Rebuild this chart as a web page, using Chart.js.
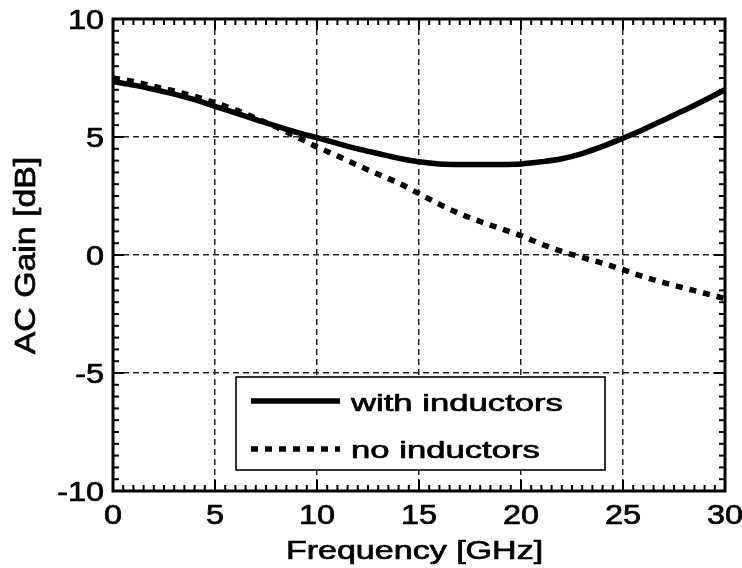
<!DOCTYPE html>
<html>
<head>
<meta charset="utf-8">
<script src="https://cdn.jsdelivr.net/npm/chart.js@4/dist/chart.umd.min.js"></script>
<style>
  html, body { margin: 0; padding: 0; background: #ffffff; }
  #wrap { width: 742px; height: 568px; }
</style>
</head>
<body>
<div id="wrap"><canvas id="gain" width="742" height="568"></canvas></div>
<script>
// Frequency sweep points (GHz)
const freqGHz = [0, 1, 2, 3, 4, 5, 6, 7, 8, 9, 10, 11, 12, 13, 14, 15, 16, 17, 18, 19, 20,
                 21, 22, 23, 24, 25, 26, 27, 28, 29, 30];
// AC gain with peaking inductors (dB)
const gainWithInductors = [7.35, 7.2, 7.02, 6.82, 6.58, 6.3, 6.02, 5.74, 5.46, 5.2, 4.97,
                           4.73, 4.5, 4.3, 4.1, 3.95, 3.86, 3.84, 3.84, 3.84, 3.86,
                           3.95, 4.08, 4.3, 4.6, 4.95, 5.32, 5.72, 6.13, 6.56, 7.0];
// AC gain without inductors (dB)
const gainNoInductors = [7.5, 7.35, 7.15, 6.95, 6.72, 6.45, 6.15, 5.8, 5.42, 5.0, 4.58,
                         4.2, 3.8, 3.42, 3.05, 2.6, 2.15, 1.75, 1.42, 1.12, 0.82,
                         0.46, 0.15, -0.1, -0.35, -0.62, -0.92, -1.17, -1.4, -1.62, -1.85];
const seriesNames = ['with inductors', 'no inductors'];
const xTickValues = [0, 5, 10, 15, 20, 25, 30];
const yTickValues = [-10, -5, 0, 5, 10];
const xAxisTitle = 'Frequency [GHz]';
const yAxisTitle = 'AC Gain [dB]';

const FONT = '"Liberation Sans", Arial, Helvetica, sans-serif';
const DOT_DASH = [7, 7];
const LINE_W = 5.5;

function toPoints(ys) {
  return freqGHz.map((f, i) => ({ x: f, y: ys[i] }));
}

function inkWidth(ctx, text, size) {
  ctx.save();
  ctx.font = size + 'px ' + FONT;
  const m = ctx.measureText(text);
  ctx.restore();
  return m.actualBoundingBoxLeft + m.actualBoundingBoxRight;
}

// Text drawn wide along its own direction (sx), optionally rotated,
// with a hairline outline to give the heavier stroke weight.
function wideText(ctx, text, x, y, size, sx, align, angle) {
  ctx.save();
  ctx.font = size + 'px ' + FONT;
  ctx.translate(x, y);
  if (angle) ctx.rotate(angle);
  ctx.scale(sx, 1);
  ctx.textAlign = align;
  ctx.textBaseline = 'alphabetic';
  ctx.fillStyle = '#000000';
  ctx.strokeStyle = '#000000';
  ctx.lineWidth = 0.7;
  ctx.lineJoin = 'round';
  ctx.fillText(text, 0, 0);
  ctx.strokeText(text, 0, 0);
  ctx.restore();
}

function seg(ctx, x1, y1, x2, y2) {
  ctx.beginPath();
  ctx.moveTo(x1, y1);
  ctx.lineTo(x2, y2);
  ctx.stroke();
}

const framePlugin = {
  id: 'frameAndLabels',
  afterDraw(chart) {
    const ctx = chart.ctx;
    const { left, right, top, bottom } = chart.chartArea;
    const xs = chart.scales.x, ys = chart.scales.y;

    // legend box
    const lx = 236, ly = 377, lw = 369, lh = 93;
    ctx.save();
    ctx.fillStyle = '#ffffff';
    ctx.fillRect(lx, ly, lw, lh);
    ctx.strokeStyle = '#000000';
    ctx.lineWidth = 1.6;
    ctx.strokeRect(lx, ly, lw, lh);
    const ds = chart.data.datasets;
    ctx.lineCap = 'butt';
    ctx.lineWidth = ds[0].borderWidth;
    ctx.setLineDash([]);
    seg(ctx, 251, 401, 340, 401);
    ctx.lineWidth = ds[1].borderWidth;
    ctx.setLineDash(DOT_DASH);
    seg(ctx, 251, 449, 340, 449);
    ctx.restore();
    const legSize = 24.5;
    const legSx = 213 / inkWidth(ctx, seriesNames[0], legSize);
    wideText(ctx, seriesNames[0], 351, 410.5, legSize, legSx, 'left');
    wideText(ctx, seriesNames[1], 351, 458, legSize, legSx, 'left');

    // plot frame
    ctx.save();
    ctx.strokeStyle = '#000000';
    ctx.lineWidth = 3;
    ctx.strokeRect(left, top, right - left, bottom - top);

    // inward major/minor tick marks on all four sides
    ctx.lineWidth = 2;
    for (let k = 0; k <= 60; k++) {
      const v = xs.min + k * 0.5;
      const px = xs.getPixelForValue(v);
      const len = (k % 10 === 0) ? 11 : 6;
      seg(ctx, px, bottom, px, bottom - len);
      seg(ctx, px, top, px, top + len);
    }
    for (let k = 0; k <= 40; k++) {
      const v = ys.min + k * 0.5;
      const py = ys.getPixelForValue(v);
      const len = (k % 10 === 0) ? 11 : 6;
      seg(ctx, left, py, left + len, py);
      seg(ctx, right, py, right - len, py);
    }
    ctx.restore();

    // tick labels
    const tickSize = 27, tickSx = 1.2;
    xTickValues.forEach(v => {
      wideText(ctx, String(v), xs.getPixelForValue(v), 523.5, tickSize, tickSx, 'center');
    });
    yTickValues.forEach(v => {
      wideText(ctx, String(v), 104, ys.getPixelForValue(v) + 9.7, tickSize, tickSx, 'right');
    });

    // axis titles
    const xtSize = 26;
    wideText(ctx, xAxisTitle, 414.5, 559, xtSize, 253 / inkWidth(ctx, xAxisTitle, xtSize), 'center');
    const ytSize = 29;
    wideText(ctx, yAxisTitle, 35, 255.5, ytSize, 195 / inkWidth(ctx, yAxisTitle, ytSize), 'center', -Math.PI / 2);
  }
};

new Chart(document.getElementById('gain'), {
  type: 'line',
  data: {
    datasets: [
      {
        label: seriesNames[0],
        data: toPoints(gainWithInductors),
        borderColor: '#000000',
        borderWidth: LINE_W,
        pointRadius: 0,
        fill: false,
        cubicInterpolationMode: 'monotone'
      },
      {
        label: seriesNames[1],
        data: toPoints(gainNoInductors),
        borderColor: '#000000',
        borderWidth: LINE_W,
        borderDash: DOT_DASH,
        borderCapStyle: 'butt',
        pointRadius: 0,
        fill: false,
        cubicInterpolationMode: 'monotone'
      }
    ]
  },
  options: {
    responsive: false,
    animation: false,
    devicePixelRatio: 1,
    layout: { padding: { left: 0, top: 19, right: 17, bottom: 0 } },
    plugins: { legend: { display: false }, tooltip: { enabled: false } },
    scales: {
      x: {
        type: 'linear',
        min: 0,
        max: 30,
        afterBuildTicks: s => { s.ticks = xTickValues.map(v => ({ value: v })); },
        afterFit: s => { s.height = 77; s.paddingLeft = 0; s.paddingRight = 0; },
        ticks: { display: false },
        grid: { color: '#222222', lineWidth: 1.5, drawTicks: false },
        border: { display: false, dash: [6, 4] }
      },
      y: {
        type: 'linear',
        min: -10,
        max: 10,
        afterBuildTicks: s => { s.ticks = yTickValues.map(v => ({ value: v })); },
        afterFit: s => { s.width = 113; s.paddingTop = 0; s.paddingBottom = 0; },
        ticks: { display: false },
        grid: { color: '#222222', lineWidth: 1.5, drawTicks: false },
        border: { display: false, dash: [6, 4] }
      }
    }
  },
  plugins: [framePlugin]
});
</script>
</body>
</html>
